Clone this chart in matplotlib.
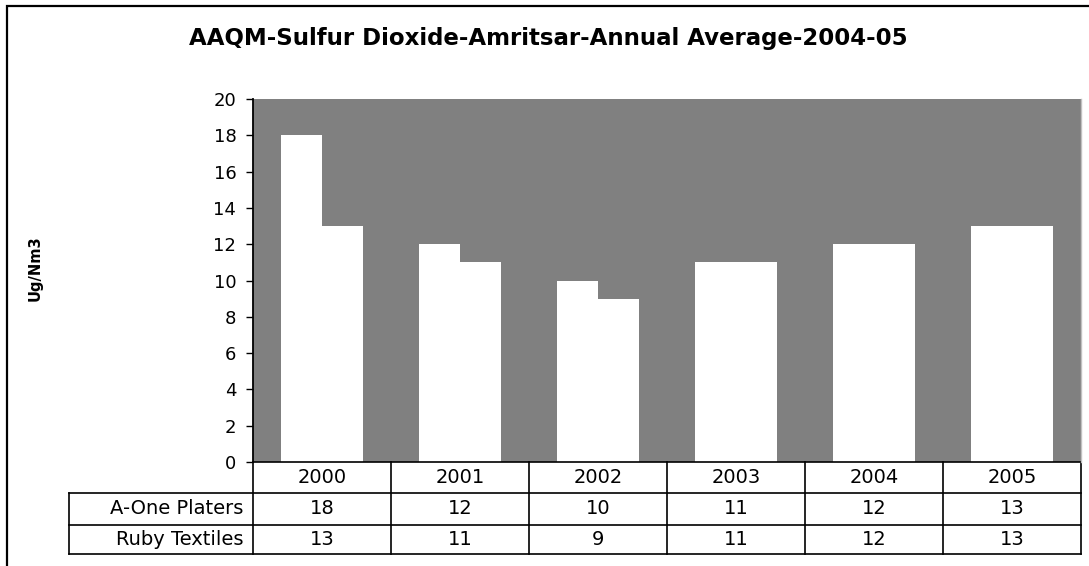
import matplotlib
matplotlib.use("Agg")
import matplotlib.pyplot as plt
from matplotlib.patches import Rectangle
import numpy as np

years = ["2000", "2001", "2002", "2003", "2004", "2005"]
series_names = ["A-One Platers", "Ruby Textiles"]
a_one = [18, 12, 10, 11, 12, 13]
ruby = [13, 11, 9, 11, 12, 13]
yticks = [0, 2, 4, 6, 8, 10, 12, 14, 16, 18, 20]

plt.rcParams['font.family'] = ['DejaVu Sans']

W, H = 1089, 566
fig = plt.figure(figsize=(W / 100, H / 100), dpi=100)
L, R, T, B = 253, 1081, 99, 462
ax = fig.add_axes([L / W, 1 - B / H, (R - L) / W, (B - T) / H])
ax.set_facecolor('#808080')

x = np.arange(len(years))
bw = 0.3
ax.bar(x - bw / 2, a_one, width=bw, color='white', edgecolor='none')
ax.bar(x + bw / 2, ruby, width=bw, color='white', edgecolor='none')

ax.set_xlim(-0.5, len(years) - 0.5)
ax.set_ylim(0, 20)
ax.set_yticks(yticks)
ax.set_yticklabels([str(v) for v in yticks], fontsize=13)
ax.set_xticks([])
ax.tick_params(axis='y', direction='out', length=5, width=1, pad=7)
for s in ['top', 'bottom']:
    ax.spines[s].set_visible(False)
ax.spines['left'].set_linewidth(1.3)
ax.spines['right'].set_color('#c0c0c0')
ax.spines['right'].set_linewidth(1)

ax.set_ylabel('Ug/Nm3', fontsize=10.5, fontweight='bold', labelpad=0)
ax.yaxis.set_label_coords((43 - L) / (R - L), (B - 268) / (B - T))

fig.text(548 / W, 1 - 38 / H, 'AAQM-Sulfur Dioxide-Amritsar-Annual Average-2004-05',
         ha='center', va='center', fontsize=16.5, fontweight='bold')

# data table below axes
axh = B - T
def yax(py):
    return (B - py) / axh
def xax(px):
    return (px - L) / (R - L)

row_edges = [462, 493, 525, 554]
lab_left = 69
lw = 1.2
kw = dict(transform=ax.transAxes, clip_on=False, color='black', lw=lw, solid_capstyle='projecting')
ax.plot([0, 1], [yax(row_edges[0])] * 2, **kw)
for ry in row_edges[1:]:
    ax.plot([xax(lab_left), 1], [yax(ry)] * 2, **kw)
for i in range(len(years) + 1):
    ax.plot([i / len(years)] * 2, [yax(row_edges[0]), yax(row_edges[-1])], **kw)
ax.plot([xax(lab_left)] * 2, [yax(row_edges[1]), yax(row_edges[-1])], **kw)

tkw = dict(transform=ax.transAxes, clip_on=False, fontsize=14, va='center')
for i, yr in enumerate(years):
    cx = (i + 0.5) / len(years)
    ax.text(cx, yax((row_edges[0] + row_edges[1]) / 2), yr, ha='center', **tkw)
    ax.text(cx, yax((row_edges[1] + row_edges[2]) / 2), str(a_one[i]), ha='center', **tkw)
    ax.text(cx, yax((row_edges[2] + row_edges[3]) / 2), str(ruby[i]), ha='center', **tkw)
ax.text(xax(L - 10), yax((row_edges[1] + row_edges[2]) / 2), series_names[0], ha='right', **tkw)
ax.text(xax(L - 10), yax((row_edges[2] + row_edges[3]) / 2), series_names[1], ha='right', **tkw)

# outer chart border (clipped at right/bottom)
fig.patches.append(Rectangle((7 / W, -0.1), 1.2, 1 - 6 / H + 0.1, transform=fig.transFigure,
                             fill=False, edgecolor='black', lw=1.6))

fig.savefig('out.png', dpi=100)
